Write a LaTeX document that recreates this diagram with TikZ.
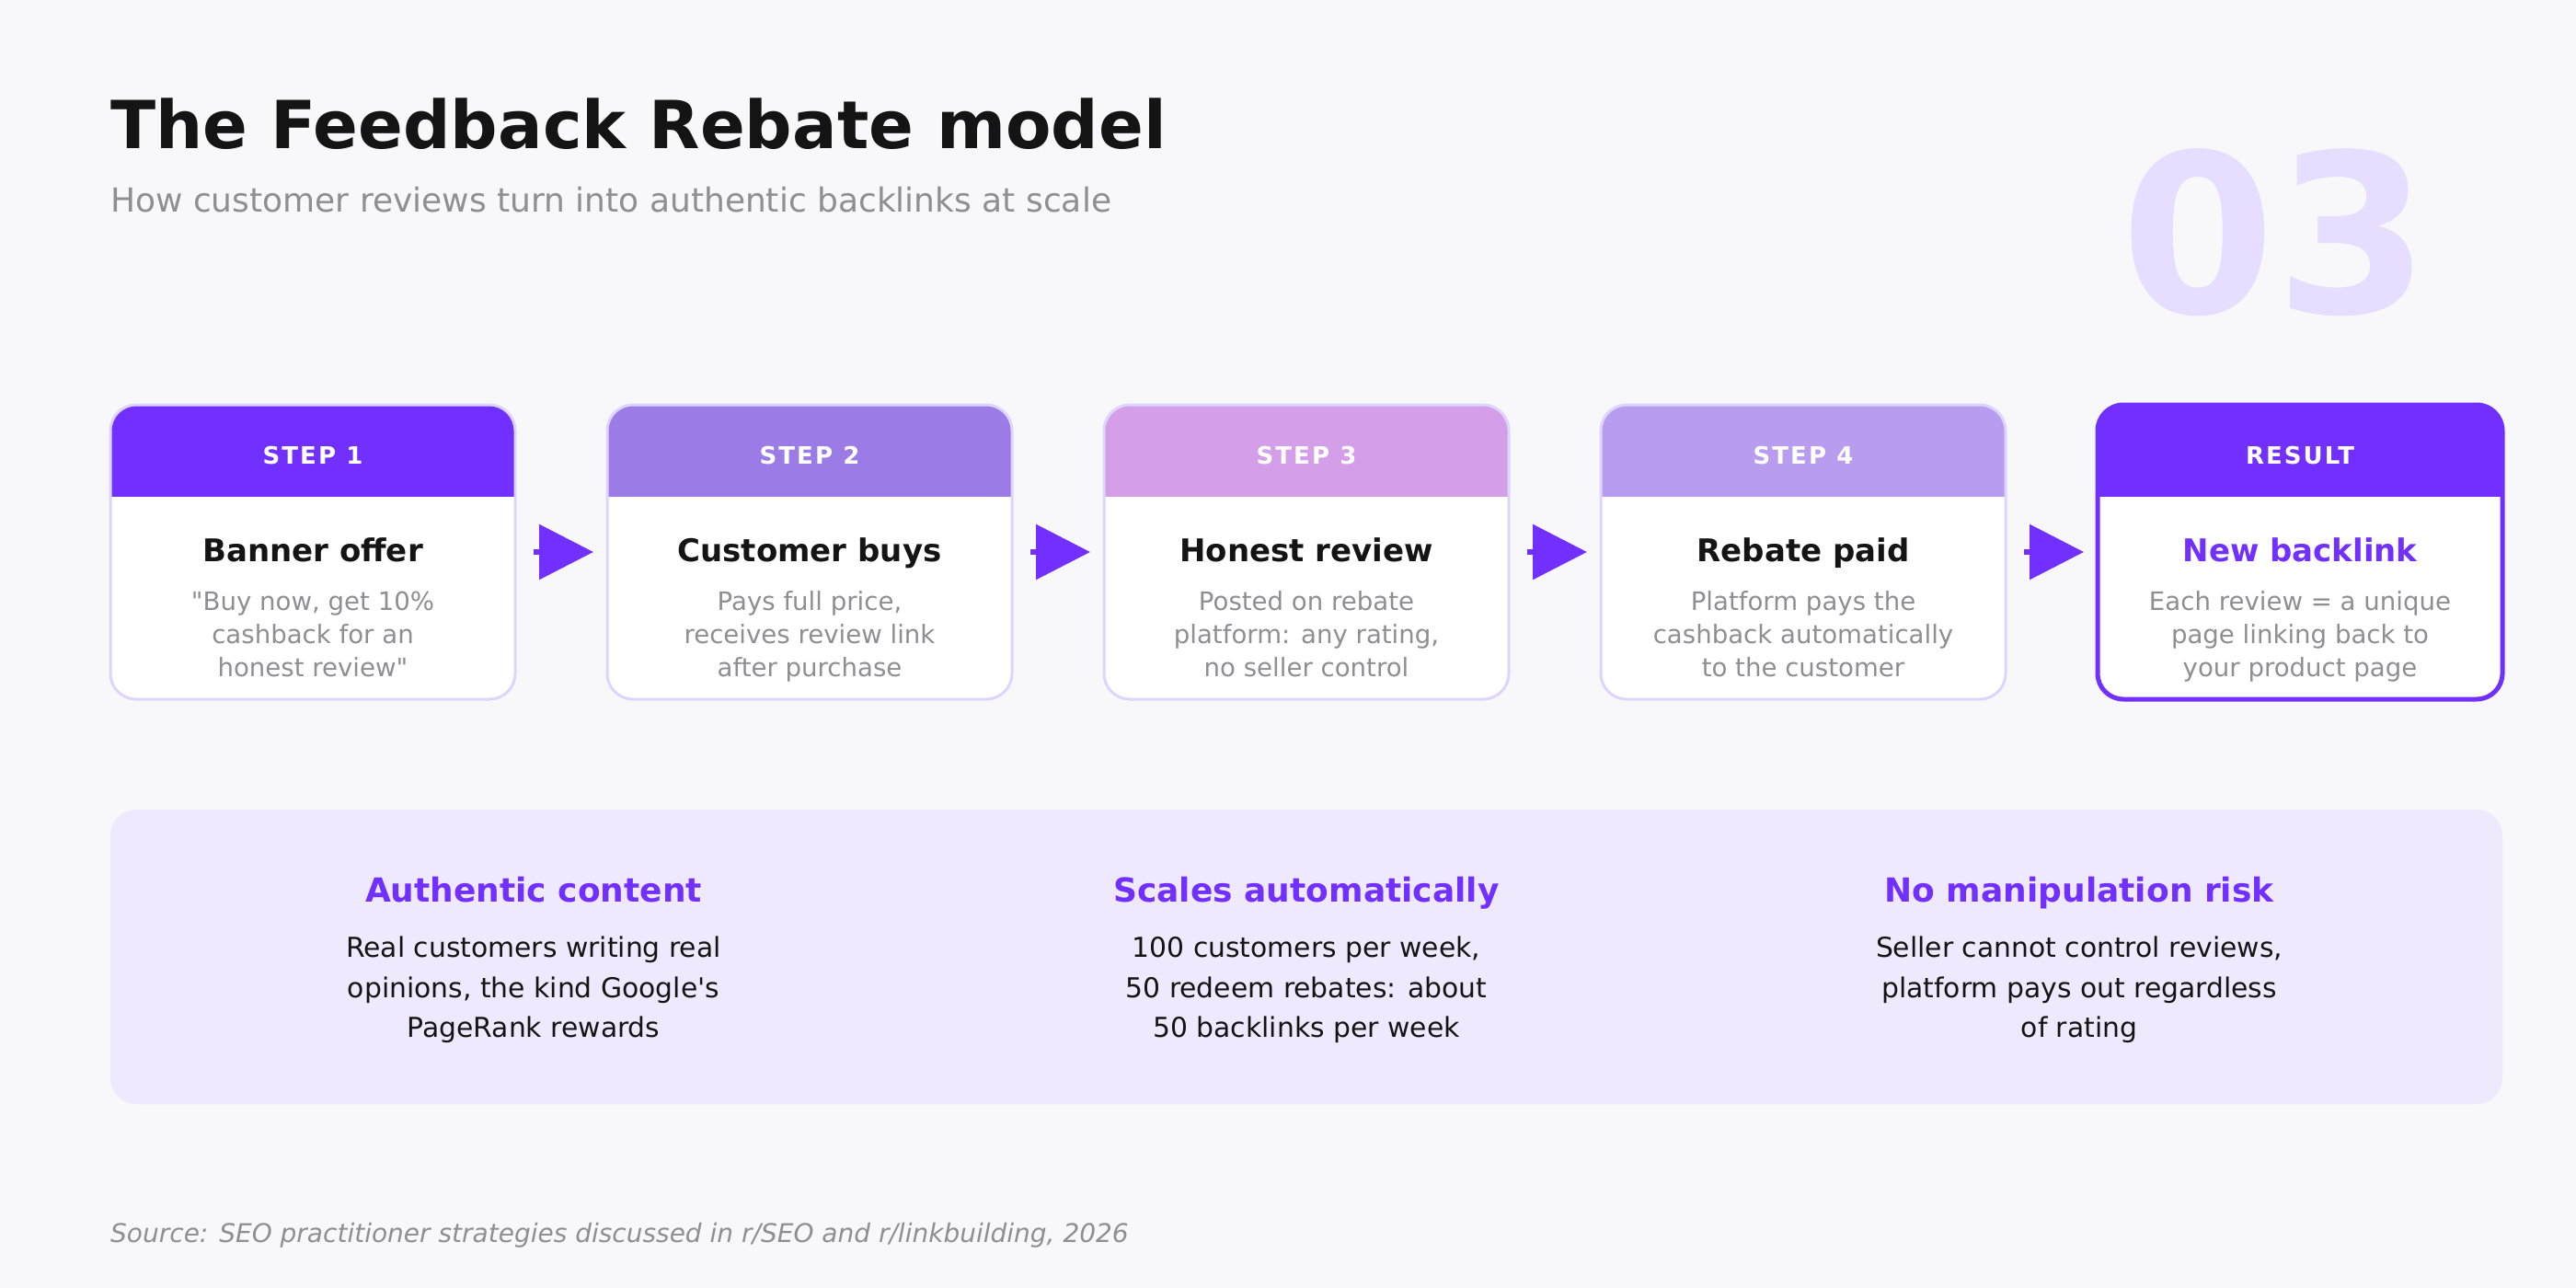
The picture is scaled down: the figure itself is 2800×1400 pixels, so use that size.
\documentclass[tikz,border=0pt]{standalone}
\usepackage{fontspec}
\setmainfont{DejaVu Sans}[Ligatures=TeXOff]
\newfontfamily\trackfont{DejaVu Sans}[Ligatures=TeXOff,LetterSpace=8]
\usetikzlibrary{arrows.meta}
\definecolor{bg}{HTML}{F8F8FA}
\definecolor{vio}{HTML}{7130FF}
\definecolor{hb}{HTML}{9B7BE6}
\definecolor{hc}{HTML}{D49FE8}
\definecolor{hd}{HTML}{B89CEF}
\definecolor{cardline}{HTML}{DDD5FD}
\definecolor{ink}{HTML}{141414}
\definecolor{mute}{HTML}{8E8E93}
\definecolor{panelfill}{HTML}{EFE9FE}
\definecolor{ghost}{HTML}{E7DDFE}
\tikzset{
  card/.style={rectangle, minimum width=440pt, minimum height=320pt, outer sep=0pt, inner sep=0pt, rounded corners=28pt, fill=white},
  hdr/.style={anchor=base, inner sep=0pt, text=white, font=\trackfont\bfseries\fontsize{26}{26}\selectfont},
  ttl/.style={anchor=base, inner sep=0pt, text=ink, font=\bfseries\fontsize{34}{34}\selectfont},
  dsc/.style={anchor=base, inner sep=0pt, text=mute, font=\fontsize{27.6}{27.6}\selectfont},
  flow/.style={draw=vio, line width=6pt, -{Triangle[length=59pt,width=59pt]}},
  colhead/.style={anchor=base, inner sep=0pt, text=vio, font=\bfseries\fontsize{36}{36}\selectfont},
  colbody/.style={anchor=base, inner sep=0pt, text=ink, font=\fontsize{29.8}{29.8}\selectfont},
}
\newcommand\stepcard[9]{%
  \node[card] (#1) at (#2,600) {};
  \begin{scope}
    \clip[rounded corners=28pt] (#1.south west) rectangle (#1.north east);
    \fill[#3] (#1.north west) rectangle ([yshift=-100pt]#1.north east);
  \end{scope}
  \draw[#9, rounded corners=28pt] (#1.south west) rectangle (#1.north east);
  \node[hdr] (#1-h) at (#2,504) {#4};
  \node[ttl] (#1-t) at (#2,610) {#5};
  \node[dsc] (#1-a) at (#2,663) {#6};
  \node[dsc] (#1-b) at (#2,699) {#7};
  \node[dsc] (#1-c) at (#2,735) {#8};
}
\begin{document}
\begin{tikzpicture}[x=1pt, y=-1pt]
\useasboundingbox (0,0) rectangle (2800,1400);
\fill[bg] (0,0) rectangle (2800,1400);

% header
\node[anchor=base west, inner sep=0pt, text=ink, font=\bfseries\fontsize{72}{72}\selectfont] (title) at (120,161) {The Feedback Rebate model};
\node[anchor=base west, inner sep=0pt, text=mute, font=\fontsize{36}{36}\selectfont] (subtitle) at (120,230) {How customer reviews turn into authentic backlinks at scale};
\node[anchor=base, inner sep=0pt, text=ghost, font=\bfseries\fontsize{241}{241}\selectfont] (num) at (2473,340) {03};

% cards
\stepcard{c1}{340}{vio}{STEP 1}{Banner offer}{"Buy now, get 10\%}{cashback for an}{honest review"}{draw=cardline, line width=3pt}
\stepcard{c2}{880}{hb}{STEP 2}{Customer buys}{Pays full price,}{receives review link}{after purchase}{draw=cardline, line width=3pt}
\stepcard{c3}{1420}{hc}{STEP 3}{Honest review}{Posted on rebate}{platform: any rating,}{no seller control}{draw=cardline, line width=3pt}
\stepcard{c4}{1960}{hd}{STEP 4}{Rebate paid}{Platform pays the}{cashback automatically}{to the customer}{draw=cardline, line width=3pt}
\stepcard{c5}{2500}{vio}{RESULT}{\textcolor{vio}{New backlink}}{Each review = a unique}{page linking back to}{your product page}{draw=vio, line width=5pt}

% arrows
\draw[flow] ([xshift=20pt]c1.east) -- ([xshift=-15pt]c2.west);
\draw[flow] ([xshift=20pt]c2.east) -- ([xshift=-15pt]c3.west);
\draw[flow] ([xshift=20pt]c3.east) -- ([xshift=-15pt]c4.west);
\draw[flow] ([xshift=20pt]c4.east) -- ([xshift=-15pt]c5.west);

% bottom panel
\node[rectangle, minimum width=2600pt, minimum height=320pt, inner sep=0pt, outer sep=0pt, rounded corners=28pt, fill=panelfill] (panel) at (1420,1040) {};

\node[colhead] (k1) at (580,980) {Authentic content};
\node[colbody] (k1a) at (580,1040) {Real customers writing real};
\node[colbody] (k1b) at (580,1084) {opinions, the kind Google's};
\node[colbody] (k1c) at (580,1127) {PageRank rewards};

\node[colhead] (k2) at (1420,980) {Scales automatically};
\node[colbody] (k2a) at (1420,1040) {100 customers per week,};
\node[colbody] (k2b) at (1420,1084) {50 redeem rebates: about};
\node[colbody] (k2c) at (1420,1127) {50 backlinks per week};

\node[colhead] (k3) at (2260,980) {No manipulation risk};
\node[colbody] (k3a) at (2260,1040) {Seller cannot control reviews,};
\node[colbody] (k3b) at (2260,1084) {platform pays out regardless};
\node[colbody] (k3c) at (2260,1127) {of rating};

% footer
\node[anchor=base west, inner sep=0pt, text=mute, font=\itshape\fontsize{28}{28}\selectfont] (src) at (120,1350) {Source: SEO practitioner strategies discussed in r/SEO and r/linkbuilding, 2026};
\end{tikzpicture}
\end{document}
